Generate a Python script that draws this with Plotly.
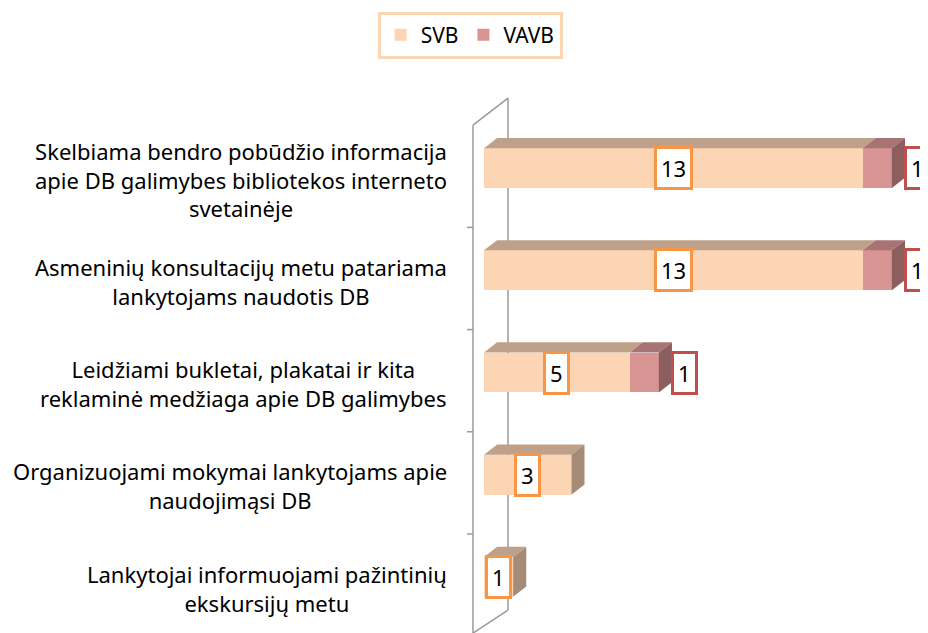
import plotly.graph_objects as go

categories = [
    "Skelbiama bendro pobūdžio informacija<br>apie DB galimybes bibliotekos interneto<br>svetainėje",
    "Asmeninių konsultacijų metu patariama<br>lankytojams naudotis DB",
    "Leidžiami bukletai, plakatai ir kita<br>reklaminė medžiaga apie DB galimybes",
    "Organizuojami mokymai lankytojams apie<br>naudojimąsi DB",
    "Lankytojai informuojami pažintinių<br>ekskursijų metu",
]
svb = [13, 13, 5, 3, 1]
vavb = [1, 1, 1, 0, 0]
series_names = ["SVB", "VAVB"]

FONT = "Noto Sans"
front = {"SVB": "#FCD5B5", "VAVB": "#D99594"}
topc = {"SVB": "#BFA088", "VAVB": "#A87473"}
sidec = {"SVB": "#A68B76", "VAVB": "#8C5E5D"}
border = {"SVB": "#F79646", "VAVB": "#C0504D"}

pos = list(range(len(categories)))
BW = 0.39          # bar thickness (category units)
DX = 0.45          # depth offset in x units
DY = 0.10          # depth offset in category units

fig = go.Figure()
for name, vals in zip(series_names, [svb, vavb]):
    fig.add_trace(go.Bar(
        y=pos, x=vals, name=name, orientation="h", width=BW,
        marker=dict(color=front[name], line=dict(width=0)),
        hoverinfo="x+name",
    ))

shapes = []
gray = "#9a9a9a"
shapes.append(dict(type="line", xref="paper", yref="paper", x0=0.0549, x1=0.0549, y0=1.037, y1=0.035,
                   line=dict(color=gray, width=1.5), layer="below"))
shapes.append(dict(type="line", xref="paper", yref="paper", x0=-0.0252, x1=0.0549, y0=0.984, y1=1.037,
                   line=dict(color=gray, width=1.5), layer="below"))
shapes.append(dict(type="line", xref="paper", yref="paper", x0=-0.0252, x1=0.0549, y0=-0.0098, y1=0.035,
                   line=dict(color=gray, width=1.5), layer="below"))
shapes.append(dict(type="line", xref="paper", yref="paper", x0=-0.0252, x1=-0.0252, y0=0.984, y1=-0.03,
                   line=dict(color=gray, width=1.5), layer="below"))
for i in range(len(categories) - 1):
    shapes.append(dict(type="line", xref="paper", yref="y", x0=-0.039, x1=-0.0252,
                       y0=i + 0.5 + 0.08, y1=i + 0.5 + 0.08,
                       line=dict(color=gray, width=1.5)))

for i in pos:
    segs = []
    start = 0
    for name, vals in zip(series_names, [svb, vavb]):
        v = vals[i]
        if v > 0:
            segs.append((name, start, start + v))
            start += v
    yt = i - BW / 2
    yb = i + BW / 2
    for name, a, b in segs:
        path = f"M{a},{yt} L{b},{yt} L{b + DX},{yt - DY} L{a + DX},{yt - DY} Z"
        shapes.append(dict(type="path", xref="x", yref="y", path=path,
                           fillcolor=topc[name], line=dict(width=0), layer="above"))
    name, a, b = segs[-1]
    path = f"M{b},{yt} L{b + DX},{yt - DY} L{b + DX},{yb - DY} L{b},{yb} Z"
    shapes.append(dict(type="path", xref="x", yref="y", path=path,
                       fillcolor=sidec[name], line=dict(width=0), layer="above"))

annotations = []
for i in pos:
    annotations.append(dict(xref="paper", yref="y", x=-0.08, y=i + 0.11, text=categories[i],
                            showarrow=False, xanchor="right", yanchor="middle", align="center",
                            font=dict(family=FONT, size=22, color="#000000")))
    s, v = svb[i], vavb[i]
    annotations.append(dict(xref="x", yref="y", x=s / 2, y=i, text=str(s), showarrow=False,
                            font=dict(family=FONT, size=22, color="#000000"),
                            bgcolor="#FFFFFF", bordercolor=border["SVB"], borderwidth=3, borderpad=4))
    if v > 0:
        annotations.append(dict(xref="x", yref="y", x=s + v, y=i, xshift=26, text=str(v), showarrow=False,
                                font=dict(family=FONT, size=22, color="#000000"),
                                bgcolor="#FFFFFF", bordercolor=border["VAVB"], borderwidth=3, borderpad=4))

fig.update_layout(
    width=928, height=633,
    margin=dict(l=476, r=15, t=109, b=13, autoexpand=False),
    barmode="stack",
    paper_bgcolor="#FFFFFF", plot_bgcolor="#FFFFFF",
    shapes=shapes, annotations=annotations,
    showlegend=True,
    legend=dict(orientation="h", xref="container", yref="container", x=0.498, y=0.957,
                xanchor="center", yanchor="middle", bordercolor="#FCD5B5", borderwidth=3,
                traceorder="normal",
                font=dict(family=FONT, size=21, color="#000000"), bgcolor="#FFFFFF"),
    xaxis=dict(range=[0, 15], showgrid=False, zeroline=False, showticklabels=False, showline=False),
    yaxis=dict(range=[4.5, -0.5], showgrid=False, zeroline=False, showticklabels=False, showline=False),
    font=dict(family=FONT),
)

fig.write_html("out.html")
